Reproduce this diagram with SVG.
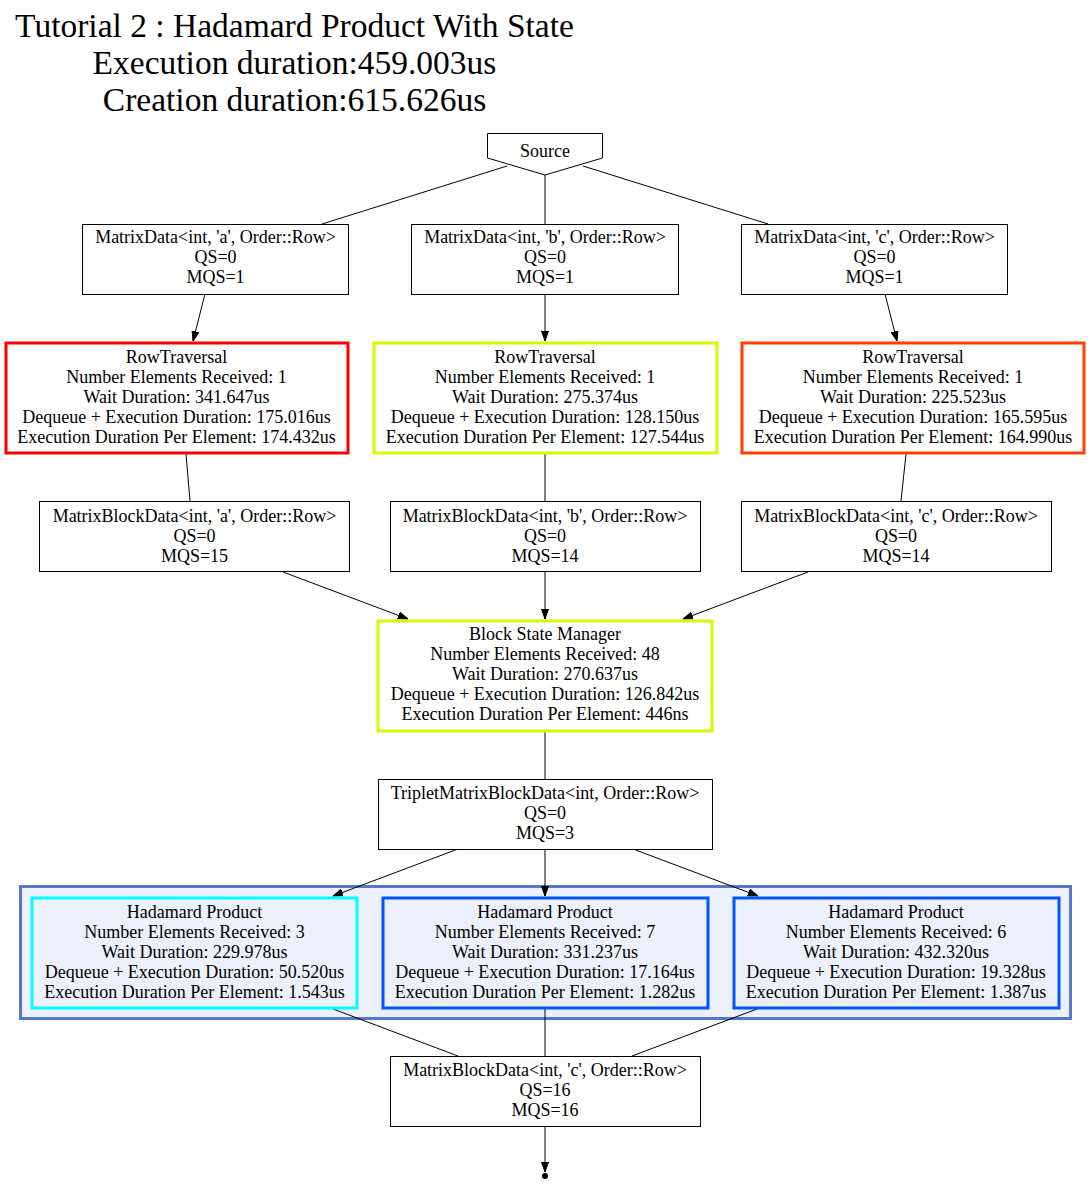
<svg xmlns="http://www.w3.org/2000/svg" width="1091" height="1185" viewBox="0 0 1091 1185">
<defs>
<style>
text{font-family:"Liberation Serif","Times New Roman",serif;font-size:18px;fill:#000;text-anchor:middle}
.title{font-size:33.5px}
.box{fill:#fff;stroke:#000;stroke-width:1}
.red{fill:#fff;stroke:#ff0000;stroke-width:3}
.lime{fill:#fff;stroke:#ccff00;stroke-width:3}
.orange{fill:#fff;stroke:#ff3f00;stroke-width:3}
.cyan{fill:#ecf0fa;stroke:#00ffff;stroke-width:3}
.blue{fill:#ecf0fa;stroke:#0055ff;stroke-width:3}
.cluster{fill:#ecf0fa;stroke:#5577cc;stroke-width:3}
.edge{stroke:#000;stroke-width:1;fill:none}
</style>
<marker id="arr" markerWidth="10" markerHeight="8" refX="10" refY="3.5" orient="auto" markerUnits="userSpaceOnUse" viewBox="0 0 10 7">
<path d="M0,0 L10,3.5 L0,7 Z" fill="#000" stroke="#000" stroke-width="1"/>
</marker>
</defs>
<rect width="1091" height="1185" fill="#fff"/>
<g id="title">
<text class="title" x="294.5" y="37">Tutorial 2 : Hadamard Product With State</text>
<text class="title" x="294.5" y="74">Execution duration:459.003us</text>
<text class="title" x="294.5" y="111">Creation duration:615.626us</text>
</g>
<g id="cluster">
<rect class="cluster" x="20.5" y="886.5" width="1050" height="132"/>
</g>
<g id="connectors">
<line class="edge" x1="507" y1="166" x2="322" y2="224"/>
<line class="edge" x1="545" y1="173" x2="545" y2="224"/>
<line class="edge" x1="583" y1="166" x2="768" y2="224"/>
<line class="edge" x1="205" y1="294" x2="193" y2="341" marker-end="url(#arr)"/>
<line class="edge" x1="545" y1="294" x2="545" y2="341" marker-end="url(#arr)"/>
<line class="edge" x1="885" y1="294" x2="897" y2="341" marker-end="url(#arr)"/>
<line class="edge" x1="186" y1="454" x2="190" y2="501"/>
<line class="edge" x1="545" y1="454" x2="545" y2="501"/>
<line class="edge" x1="906" y1="454" x2="901" y2="501"/>
<line class="edge" x1="283" y1="572" x2="408" y2="619" marker-end="url(#arr)"/>
<line class="edge" x1="545" y1="572" x2="545" y2="619" marker-end="url(#arr)"/>
<line class="edge" x1="808" y1="572" x2="683" y2="619" marker-end="url(#arr)"/>
<line class="edge" x1="545" y1="732" x2="545" y2="779"/>
<line class="edge" x1="458" y1="849" x2="333" y2="896" marker-end="url(#arr)"/>
<line class="edge" x1="545" y1="849" x2="545" y2="896" marker-end="url(#arr)"/>
<line class="edge" x1="633" y1="849" x2="758" y2="896" marker-end="url(#arr)"/>
<line class="edge" x1="333" y1="1009" x2="458" y2="1056"/>
<line class="edge" x1="545" y1="1009" x2="545" y2="1056"/>
<line class="edge" x1="757" y1="1009" x2="632" y2="1056"/>
<line class="edge" x1="545" y1="1126" x2="545" y2="1172" marker-end="url(#arr)"/>
<circle cx="545" cy="1176" r="3" fill="#000"/>
</g>
<g id="source">
<polygon class="box" points="487.5,133.5 602.5,133.5 602.5,158 545,175 487.5,158"/>
<text x="545" y="157">Source</text>
</g>
<g id="md_a">
<rect class="box" x="82.5" y="224.5" width="266" height="70"/>
<text x="215.5" y="243">MatrixData&lt;int, 'a', Order::Row&gt;</text>
<text x="215.5" y="263">QS=0</text>
<text x="215.5" y="283">MQS=1</text>
</g>
<g id="md_b">
<rect class="box" x="411.5" y="224.5" width="267" height="70"/>
<text x="545" y="243">MatrixData&lt;int, 'b', Order::Row&gt;</text>
<text x="545" y="263">QS=0</text>
<text x="545" y="283">MQS=1</text>
</g>
<g id="md_c">
<rect class="box" x="741.5" y="224.5" width="266" height="70"/>
<text x="874.5" y="243">MatrixData&lt;int, 'c', Order::Row&gt;</text>
<text x="874.5" y="263">QS=0</text>
<text x="874.5" y="283">MQS=1</text>
</g>
<g id="rt_a">
<rect class="red" x="6" y="343" width="342" height="110"/>
<text x="176.5" y="363">RowTraversal</text>
<text x="176.5" y="383">Number Elements Received: 1</text>
<text x="176.5" y="403">Wait Duration: 341.647us</text>
<text x="176.5" y="423">Dequeue + Execution Duration: 175.016us</text>
<text x="176.5" y="443">Execution Duration Per Element: 174.432us</text>
</g>
<g id="rt_b">
<rect class="lime" x="374" y="343" width="343" height="110"/>
<text x="545" y="363">RowTraversal</text>
<text x="545" y="383">Number Elements Received: 1</text>
<text x="545" y="403">Wait Duration: 275.374us</text>
<text x="545" y="423">Dequeue + Execution Duration: 128.150us</text>
<text x="545" y="443">Execution Duration Per Element: 127.544us</text>
</g>
<g id="rt_c">
<rect class="orange" x="742" y="343" width="342" height="110"/>
<text x="913" y="363">RowTraversal</text>
<text x="913" y="383">Number Elements Received: 1</text>
<text x="913" y="403">Wait Duration: 225.523us</text>
<text x="913" y="423">Dequeue + Execution Duration: 165.595us</text>
<text x="913" y="443">Execution Duration Per Element: 164.990us</text>
</g>
<g id="mbd_a">
<rect class="box" x="39.5" y="501.5" width="310" height="70"/>
<text x="194.5" y="522">MatrixBlockData&lt;int, 'a', Order::Row&gt;</text>
<text x="194.5" y="542">QS=0</text>
<text x="194.5" y="562">MQS=15</text>
</g>
<g id="mbd_b">
<rect class="box" x="390.5" y="501.5" width="310" height="70"/>
<text x="545" y="522">MatrixBlockData&lt;int, 'b', Order::Row&gt;</text>
<text x="545" y="542">QS=0</text>
<text x="545" y="562">MQS=14</text>
</g>
<g id="mbd_c">
<rect class="box" x="741.5" y="501.5" width="310" height="70"/>
<text x="896" y="522">MatrixBlockData&lt;int, 'c', Order::Row&gt;</text>
<text x="896" y="542">QS=0</text>
<text x="896" y="562">MQS=14</text>
</g>
<g id="bsm">
<rect class="lime" x="378" y="621" width="334" height="110"/>
<text x="545" y="640">Block State Manager</text>
<text x="545" y="660">Number Elements Received: 48</text>
<text x="545" y="680">Wait Duration: 270.637us</text>
<text x="545" y="700">Dequeue + Execution Duration: 126.842us</text>
<text x="545" y="720">Execution Duration Per Element: 446ns</text>
</g>
<g id="triplet">
<rect class="box" x="378.5" y="779.5" width="334" height="70"/>
<text x="545" y="799">TripletMatrixBlockData&lt;int, Order::Row&gt;</text>
<text x="545" y="819">QS=0</text>
<text x="545" y="839">MQS=3</text>
</g>
<g id="hp_1">
<rect class="cyan" x="32" y="898" width="325" height="110"/>
<text x="194.5" y="918">Hadamard Product</text>
<text x="194.5" y="938">Number Elements Received: 3</text>
<text x="194.5" y="958">Wait Duration: 229.978us</text>
<text x="194.5" y="978">Dequeue + Execution Duration: 50.520us</text>
<text x="194.5" y="998">Execution Duration Per Element: 1.543us</text>
</g>
<g id="hp_2">
<rect class="blue" x="383" y="898" width="325" height="110"/>
<text x="545" y="918">Hadamard Product</text>
<text x="545" y="938">Number Elements Received: 7</text>
<text x="545" y="958">Wait Duration: 331.237us</text>
<text x="545" y="978">Dequeue + Execution Duration: 17.164us</text>
<text x="545" y="998">Execution Duration Per Element: 1.282us</text>
</g>
<g id="hp_3">
<rect class="blue" x="734" y="898" width="325" height="110"/>
<text x="896" y="918">Hadamard Product</text>
<text x="896" y="938">Number Elements Received: 6</text>
<text x="896" y="958">Wait Duration: 432.320us</text>
<text x="896" y="978">Dequeue + Execution Duration: 19.328us</text>
<text x="896" y="998">Execution Duration Per Element: 1.387us</text>
</g>
<g id="mbd_out">
<rect class="box" x="390.5" y="1056.5" width="310" height="70"/>
<text x="545" y="1076">MatrixBlockData&lt;int, 'c', Order::Row&gt;</text>
<text x="545" y="1096">QS=16</text>
<text x="545" y="1116">MQS=16</text>
</g>
</svg>
